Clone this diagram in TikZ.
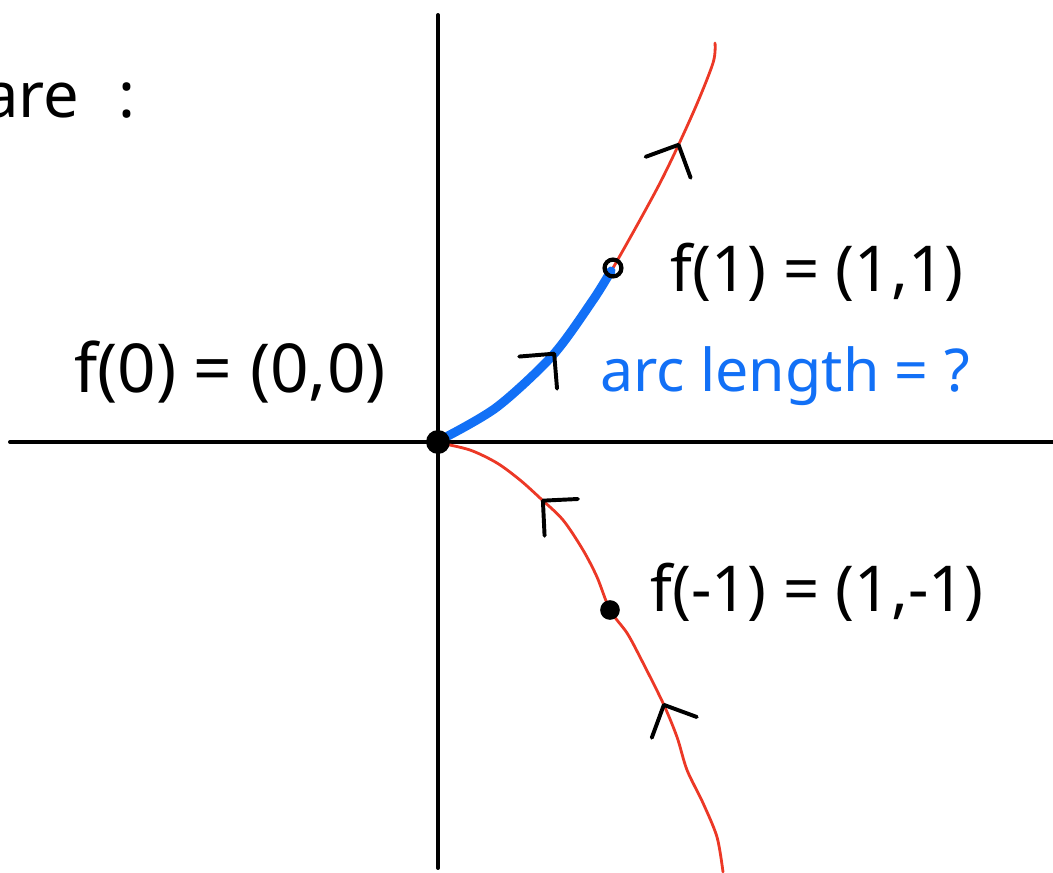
\documentclass[tikz,border=0pt]{standalone}
\usepackage{fontspec}
\setmainfont{Noto Sans}
\usepackage{tikz}
\usetikzlibrary{arrows.meta, decorations.markings}
\definecolor{SkRed}{RGB}{236,56,38}
\definecolor{SkBlue}{RGB}{18,112,246}

\begin{document}
\begin{tikzpicture}[x=0.025cm, y=-0.025cm,
    chv/.tip={Straight Barb[length=6.2mm, width=12.4mm, round]},
    axis/.style={line width=2.8pt, line cap=round},
    chev/.style={black, line width=2.8pt},
    branch/.style={SkRed, line width=2pt, line cap=round, postaction={decorate}},
    arclen/.style={SkBlue, line width=6.4pt, line cap=round, postaction={decorate}},
    pnt/.style={circle, fill=black, inner sep=0pt, minimum size=#1},
    lbl/.style={font=\fontsize{45}{52}\selectfont}
  ]
  \useasboundingbox (0,0) rectangle (1053,873);
  \clip (0,0) rectangle (1053,873);

  % Axes
  \draw[axis] (438,15) -- (438,868);
  \draw[axis] (10,442) -- (1060,442);

  % Lower branch, t from -1.2 to 0
  \draw[branch, decoration={markings,
        mark=at position 0.335 with {\arrow[chev]{chv}},
        mark=at position 0.78 with {\arrow[chev]{chv}}}]
    plot[smooth] coordinates {(723,872) (717,837) (703,803) (687,770) (677,737)
      (663,703) (640,657) (627,633) (610,610) (597,577) (583,550) (563,520)
      (540,498) (520,480) (497,463) (470,450) (440,443)};

  % Upper branch, t from 0 to 1.3
  \draw[branch, decoration={markings,
        mark=at position 0.785 with {\arrow[chev]{chv}}}]
    plot[smooth] coordinates {(440,442) (497,407) (553,355) (593,300) (613,268)
      (660,183) (693,113) (713,63) (715,43)};

  % Arc from f(0) to f(1)
  \draw[arclen, decoration={markings,
        mark=at position 0.59 with {\arrow[chev]{chv}}}]
    plot[smooth] coordinates {(444,438) (497,407) (553,355) (593,300) (611,271)};

  % Points
  \node[pnt=17pt] (o) at (438,442) {};
  \node[circle, draw=black, line width=3pt, inner sep=0pt, minimum size=12pt] (p1) at (613,268) {};
  \node[pnt=14pt] (pm1) at (610,610) {};

  % Labels
  \node[lbl, anchor=base east] (hdr) at (140,118) {are\hspace{16pt} :};
  \node[lbl, font=\fontsize{48}{54}\selectfont] (f0) at (230,372) {f(0) = (0,0)};
  \node[lbl] (f1) at (817,272) {f(1) = (1,1)};
  \node[lbl, SkBlue, font=\fontsize{42}{48}\selectfont] (len) at (785,376) {arc length = ?};
  \node[lbl] (fm1) at (817,592) {f(-1) = (1,-1)};
\end{tikzpicture}
\end{document}
